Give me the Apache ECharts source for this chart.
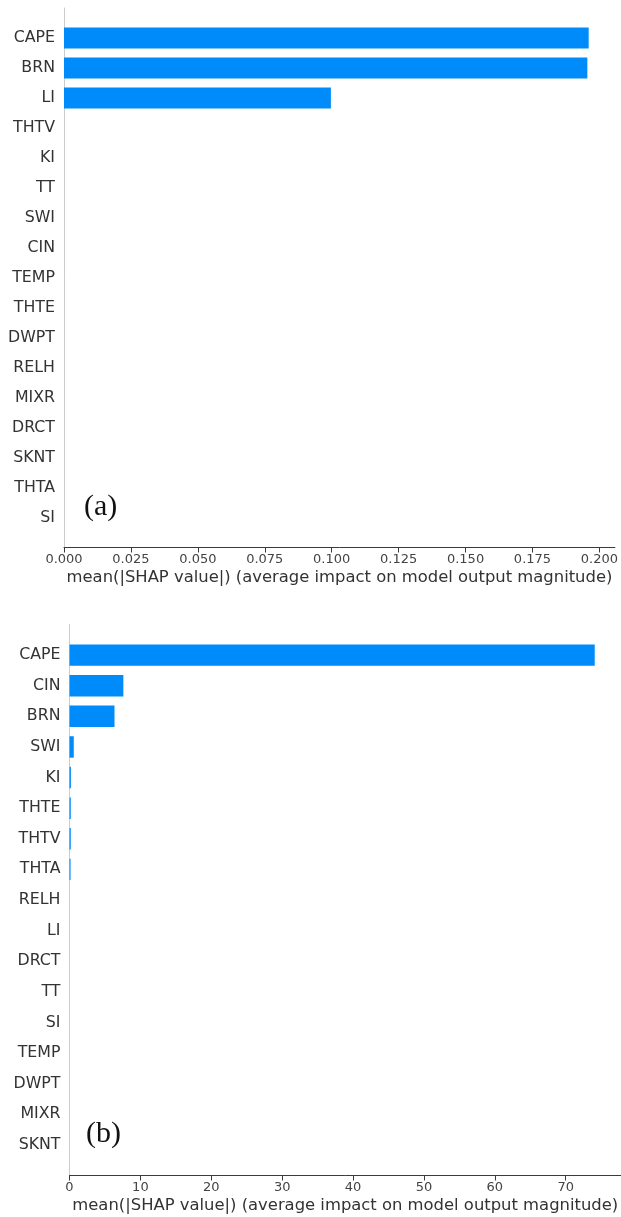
<!DOCTYPE html>
<html>
<head>
<meta charset="utf-8">
<script src="https://cdn.jsdelivr.net/npm/echarts@6/dist/echarts.min.js"></script>
<style>
  html, body { margin: 0; padding: 0; background: #ffffff; }
  #chart { width: 621px; height: 1217px; }
</style>
</head>
<body>
<div id="chart"></div>
<script>
// Panel (a): mean |SHAP| per feature
const featuresA = ['CAPE', 'BRN', 'LI', 'THTV', 'KI', 'TT', 'SWI', 'CIN', 'TEMP', 'THTE', 'DWPT', 'RELH', 'MIXR', 'DRCT', 'SKNT', 'THTA', 'SI'];
const valuesA = [0.196, 0.1955, 0.0997, 0, 0, 0, 0, 0, 0, 0, 0, 0, 0, 0, 0, 0, 0];
const ticksA = [0, 0.025, 0.05, 0.075, 0.1, 0.125, 0.15, 0.175, 0.2];

// Panel (b): mean |SHAP| per feature
const featuresB = ['CAPE', 'CIN', 'BRN', 'SWI', 'KI', 'THTE', 'THTV', 'THTA', 'RELH', 'LI', 'DRCT', 'TT', 'SI', 'TEMP', 'DWPT', 'MIXR', 'SKNT'];
const valuesB = [74.1, 7.6, 6.35, 0.6, 0.2, 0.18, 0.18, 0.15, 0, 0, 0, 0, 0, 0, 0, 0, 0];
const ticksB = [0, 10, 20, 30, 40, 50, 60, 70];

const xTitle = 'mean(|SHAP value|) (average impact on model output magnitude)';
const panelLabels = ['(a)', '(b)'];

const sans = 'DejaVu Sans';
const barColor = '#008bfb';

// matplotlib-style upper margin of 5% past the longest bar
const xMaxA = Math.max(...valuesA) * 1.05;
const xMaxB = Math.max(...valuesB) * 1.05;

function xAxisFor(gridIndex, max, ticks, digits) {
  return {
    type: 'value', gridIndex: gridIndex, min: 0, max: max,
    name: xTitle, nameLocation: 'middle', nameGap: 22,
    nameTextStyle: { fontFamily: sans, fontSize: 16.4, color: '#333333' },
    axisLine: { show: true, onZero: false, lineStyle: { color: '#3a3a3a', width: 1 } },
    axisTick: { show: true, length: 5, customValues: ticks, lineStyle: { color: '#3a3a3a', width: 1 } },
    axisLabel: {
      customValues: ticks, formatter: v => Number(v).toFixed(digits),
      fontFamily: sans, fontSize: 13, color: '#444444', margin: 6
    },
    splitLine: { show: false }
  };
}

function yAxisFor(gridIndex, features) {
  // one empty slot above and below the features, like ylim(-1, n)
  return {
    type: 'category', gridIndex: gridIndex, inverse: true, boundaryGap: false,
    data: [''].concat(features, ['']),
    axisLine: { show: true, lineStyle: { color: '#cccccc', width: 1 } },
    axisTick: { show: false },
    axisLabel: { interval: 0, fontFamily: sans, fontSize: 15.8, color: '#333333', margin: 9 },
    splitLine: { show: false }
  };
}

function barSeries(index, values) {
  return {
    type: 'bar', xAxisIndex: index, yAxisIndex: index,
    data: ['-'].concat(values, ['-']),
    barWidth: '70%',
    itemStyle: { color: barColor },
    silent: true, animation: false
  };
}

const chart = echarts.init(document.getElementById('chart'), null, { renderer: 'canvas' });
chart.setOption({
  backgroundColor: '#ffffff',
  animation: false,
  title: [
    { text: panelLabels[0], left: 84, top: 492, padding: 0,
      textStyle: { fontFamily: 'Liberation Serif', fontSize: 30, fontWeight: 'normal', color: '#111111' } },
    { text: panelLabels[1], left: 86, top: 1119, padding: 0,
      textStyle: { fontFamily: 'Liberation Serif', fontSize: 30, fontWeight: 'normal', color: '#111111' } }
  ],
  grid: [
    { left: 64, top: 8, width: 559.6, height: 539.5, containLabel: false },
    { left: 69.5, top: 624.5, width: 553.5, height: 551, containLabel: false }
  ],
  xAxis: [xAxisFor(0, xMaxA, ticksA, 3), xAxisFor(1, xMaxB, ticksB, 0)],
  yAxis: [yAxisFor(0, featuresA), yAxisFor(1, featuresB)],
  series: [barSeries(0, valuesA), barSeries(1, valuesB)]
});
</script>
</body>
</html>
